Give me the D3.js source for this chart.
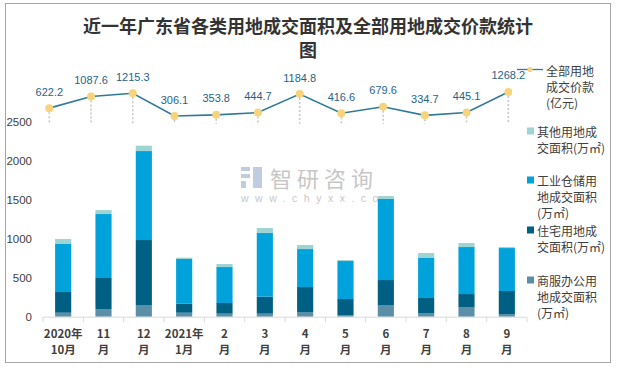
<!DOCTYPE html>
<html><head><meta charset="utf-8">
<script src="https://cdn.jsdelivr.net/npm/d3@7"></script>
<style>
html,body{margin:0;padding:0;background:#fff;}
svg{display:block;}
</style></head>
<body>
<svg id="chart" width="619" height="368"></svg>
<script>
const months = ["2020年\n10月","11\n月","12\n月","2021年\n1月","2\n月","3\n月","4\n月","5\n月","6\n月","7\n月","8\n月","9\n月"];
const commercial = [51, 98, 150, 51, 39, 39, 60, 21, 150, 47, 124, 34];
const residential = [266, 399, 835, 116, 137, 218, 321, 206, 321, 193, 167, 296];
const industrial = [617, 822, 1143, 574, 462, 818, 488, 488, 1041, 514, 604, 552];
const other = [64, 51, 69, 17, 39, 64, 52, 13, 38, 64, 51, 13];
const price = [622.2, 1087.6, 1215.3, 306.1, 353.8, 444.7, 1184.8, 416.6, 679.6, 334.7, 445.1, 1268.2];
const yTicks = [0, 500, 1000, 1500, 2000, 2500];
const seriesNames = ["其他用地成\n交面积(万㎡)", "工业仓储用\n地成交面积\n(万㎡)", "住宅用地成\n交面积(万㎡)", "商服办公用\n地成交面积\n(万㎡)"];
const lineName = "全部用地\n成交价款\n(亿元)";
const title = ["近一年广东省各类用地成交面积及全部用地成交价款统计", "图"];

const colors = {commercial:"#5B8FA8", residential:"#006083", industrial:"#00A2DB", other:"#9ED4D3"};
const CJK = "'Noto Sans CJK SC', 'Liberation Sans', sans-serif";
const LAT = "'Liberation Sans', 'Noto Sans CJK SC', sans-serif";

const svg = d3.select("#chart");
// frame
svg.append("rect").attr("x",5.5).attr("y",3.5).attr("width",605).attr("height",359)
  .attr("fill","#fff").attr("stroke","#A6A6A6").attr("stroke-width",1);

// title
svg.append("g").selectAll("text").data(title).join("text")
  .attr("x",308).attr("y",(d,i)=>25+i*24).attr("text-anchor","middle").attr("dominant-baseline","central")
  .attr("font-family",CJK).attr("font-size",18).attr("font-weight","bold").attr("fill","#333")
  .text(d=>d);

// watermark
const wm = svg.append("g").attr("opacity",0.55);
wm.append("rect").attr("x",241).attr("y",167).attr("width",9).attr("height",4).attr("fill","#8EA6C9");
wm.append("rect").attr("x",241).attr("y",174).attr("width",9).attr("height",4).attr("fill","#8EA6C9");
wm.append("rect").attr("x",241).attr("y",181).attr("width",5).attr("height",7).attr("fill","#8EA6C9");
wm.append("rect").attr("x",253).attr("y",167).attr("width",9).attr("height",21).attr("fill","#8EA6C9");
wm.append("text").attr("x",270).attr("y",177).attr("dominant-baseline","central")
  .attr("font-family",CJK).attr("font-size",22).attr("letter-spacing",5).attr("fill","#999").text("智研咨询");
wm.append("text").attr("x",241).attr("y",198).attr("dominant-baseline","central")
  .attr("font-family",LAT).attr("font-size",10.5).attr("letter-spacing",6.5).attr("fill","#999").text("www.chyxx.com");

// scales
const x = d3.scaleBand().domain(d3.range(months.length)).range([43, 527]).paddingInner(0.6).paddingOuter(0.3);
const y = d3.scaleLinear().domain([0, 2500]).range([316.7, 122.1]);

// stacked data
const table = months.map((m,i)=>({i, commercial:commercial[i], residential:residential[i], industrial:industrial[i], other:other[i]}));
const keys = ["commercial","residential","industrial","other"];
const stack = d3.stack().keys(keys)(table);

svg.append("g").selectAll("g").data(stack).join("g")
  .attr("fill",d=>colors[d.key])
  .selectAll("rect").data(d=>d).join("rect")
  .attr("x",d=>x(d.data.i)).attr("width",x.bandwidth())
  .attr("y",d=>y(d[1])).attr("height",d=>y(d[0])-y(d[1]));

// x axis
const xAxisG = svg.append("g").attr("transform","translate(0,317.2)");
xAxisG.append("line").attr("x1",43).attr("x2",527).attr("stroke","#D9D9D9").attr("stroke-width",1);
xAxisG.selectAll("line.tk").data(d3.range(months.length+1)).join("line").attr("class","tk")
  .attr("x1",i=>43+i*(484/12)).attr("x2",i=>43+i*(484/12)).attr("y1",0).attr("y2",5)
  .attr("stroke","#D9D9D9");
const xl = xAxisG.selectAll("text").data(months).join("text")
  .attr("text-anchor","middle").attr("font-family",CJK).attr("font-size",11.5).attr("font-weight","bold").attr("fill","#404040");
xl.each(function(d,i){
  const t = d3.select(this);
  d.split("\n").forEach((s,k)=>{
    t.append("tspan").attr("x",x(i)+x.bandwidth()/2).attr("y",16+k*15.5).attr("dominant-baseline","central").text(s);
  });
});

// y axis labels
svg.append("g").selectAll("text").data(yTicks).join("text")
  .attr("x",32).attr("y",d=>y(d)).attr("text-anchor","end").attr("dominant-baseline","central")
  .attr("font-family",LAT).attr("font-size",11.5).attr("fill","#404040").text(d=>d);

// line chart
const lx = d3.scalePoint().domain(d3.range(months.length)).range([49.3, 508.3]);
const ly = d3.scaleLinear().domain([0, 1400]).range([123.7, 88.7]);

svg.append("g").selectAll("line").data(price).join("line")
  .attr("x1",(d,i)=>lx(i)).attr("x2",(d,i)=>lx(i)).attr("y1",d=>ly(d)).attr("y2",ly(0))
  .attr("stroke","#C8C8C8").attr("stroke-width",1.6).attr("stroke-dasharray","2,2");

svg.append("path").datum(price)
  .attr("d", d3.line().x((d,i)=>lx(i)).y(d=>ly(d)))
  .attr("fill","none").attr("stroke","#2F7A98").attr("stroke-width",1.6);

svg.append("g").selectAll("circle").data(price).join("circle")
  .attr("cx",(d,i)=>lx(i)).attr("cy",d=>ly(d)).attr("r",4).attr("fill","#F7D37C");

svg.append("g").selectAll("text").data(price).join("text")
  .attr("x",(d,i)=>lx(i)).attr("y",d=>ly(d)-16.5).attr("text-anchor","middle").attr("dominant-baseline","central")
  .attr("font-family",LAT).attr("font-size",11).attr("fill","#1F6388").text(d=>d3.format(".1f")(d));

// legend
const lg = svg.append("g");
lg.append("line").attr("x1",517).attr("x2",543).attr("y1",69.5).attr("y2",69.5).attr("stroke","#2F7A98").attr("stroke-width",1.3);
lg.append("circle").attr("cx",530).attr("cy",69.5).attr("r",2.6).attr("fill","#F7D37C");
function legendText(lines, x0, y0){
  lg.append("g").selectAll("text").data(lines.split("\n")).join("text")
    .attr("x",x0).attr("y",(d,k)=>y0+k*16).attr("dominant-baseline","central")
    .attr("font-family",CJK).attr("font-size",12).attr("fill","#404040").text(d=>d);
}
legendText(lineName, 546, 70);
const legendItems = [
  {key:"other", y0:131},
  {key:"industrial", y0:180},
  {key:"residential", y0:230},
  {key:"commercial", y0:280}
];
legendItems.forEach((it,k)=>{
  lg.append("rect").attr("x",527).attr("y",it.y0-3.5).attr("width",7).attr("height",7).attr("fill",colors[it.key]);
  legendText(seriesNames[k], 537, it.y0);
});
</script>
</body></html>
